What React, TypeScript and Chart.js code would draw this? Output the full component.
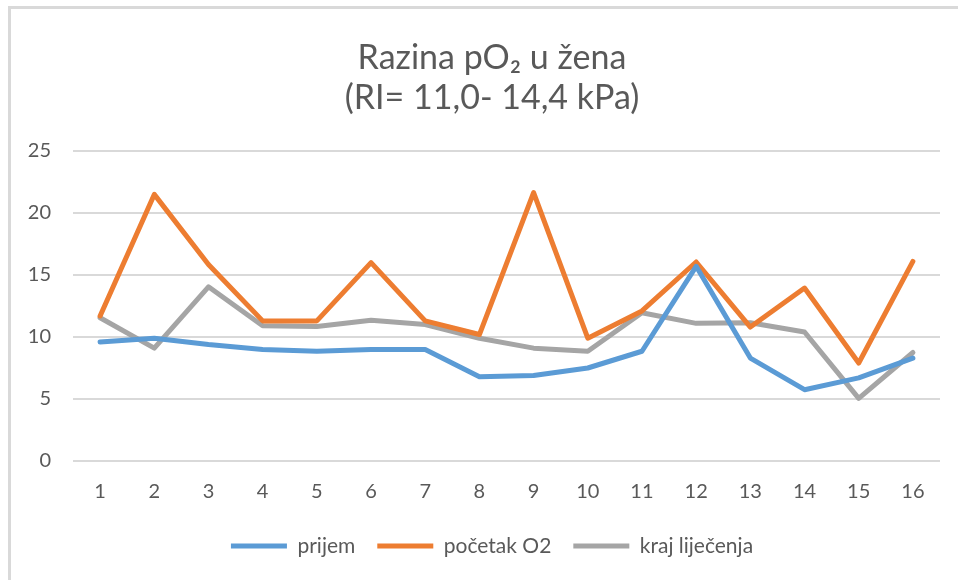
import React, { useEffect, useRef } from "react";
import { Chart, registerables } from "chart.js";

Chart.register(...registerables);

const categories = ["1", "2", "3", "4", "5", "6", "7", "8", "9", "10", "11", "12", "13", "14", "15", "16"];
const prijem = [9.6, 9.9, 9.4, 9.0, 8.85, 9.0, 9.0, 6.8, 6.9, 7.5, 8.85, 15.7, 8.3, 5.75, 6.7, 8.3];
const pocetakO2 = [11.7, 21.5, 15.85, 11.3, 11.3, 16.0, 11.3, 10.2, 21.65, 9.9, 12.1, 16.05, 10.8, 13.95, 7.9, 16.1];
const krajLijecenja = [11.55, 9.1, 14.05, 10.9, 10.85, 11.35, 11.0, 9.9, 9.1, 8.85, 11.95, 11.1, 11.15, 10.4, 5.05, 8.75];
const titleLines = ["Razina pO\u2082 u \u017eena", "(RI= 11,0- 14,4 kPa)"];
const seriesNames = ["prijem", "po\u010detak O2", "kraj lije\u010denja"];

const FONT = "Lato, 'Noto Sans', sans-serif";
const TEXT = "#595959";

export default function App() {
  const ref = useRef<HTMLCanvasElement | null>(null);

  useEffect(() => {
    if (!ref.current) return;
    const mk = (label: string, data: number[], color: string) => ({
      label,
      data,
      borderColor: color,
      backgroundColor: color,
      borderWidth: 5,
      pointRadius: 0,
      pointHoverRadius: 0,
      tension: 0,
      borderJoinStyle: "round" as const,
      borderCapStyle: "round" as const,
      fill: false,
      yAxisID: "y",
    });
    const chart = new Chart(ref.current, {
      type: "line",
      data: {
        labels: categories,
        datasets: [
          mk(seriesNames[0], prijem, "#5B9BD5"),
          mk(seriesNames[1], pocetakO2, "#ED7D31"),
          mk(seriesNames[2], krajLijecenja, "#A5A5A5"),
        ],
      },
      options: {
        responsive: false,
        animation: false,
        layout: { padding: { left: 0, right: 0, top: 0, bottom: 13.5 } },
        plugins: {
          tooltip: { enabled: false },
          title: {
            display: true,
            text: titleLines,
            color: TEXT,
            font: { family: FONT, size: 34, weight: "normal", lineHeight: "40px" },
            padding: { top: 38, bottom: 33 },
          },
          legend: {
            position: "bottom",
            labels: {
              usePointStyle: true,
              pointStyle: "line",
              pointStyleWidth: 56,
              boxHeight: 21,
              color: TEXT,
              font: { family: FONT, size: 21 },
              padding: 22,
            },
          },
        },
        scales: {
          x: {
            offset: true,
            grid: { display: false, drawTicks: false },
            border: { display: false },
            ticks: { color: TEXT, font: { family: FONT, size: 20 }, padding: 19, maxRotation: 0 },
            afterFit: (scale: any) => {
              scale.height = 52.5;
            },
          },
          y: {
            position: "left",
            min: 0,
            max: 25,
            ticks: { stepSize: 5, color: TEXT, font: { family: FONT, size: 20 }, padding: 22 },
            grid: { color: "#d9d9d9", lineWidth: 2, drawTicks: false },
            border: { display: false },
            afterFit: (scale: any) => {
              scale.width = 73;
            },
          },
          spacer: {
            type: "linear",
            position: "right",
            display: true,
            ticks: { display: false },
            grid: { display: false, drawTicks: false },
            border: { display: false },
            afterFit: (scale: any) => {
              scale.width = 44;
            },
          },
        },
      },
    });
    return () => chart.destroy();
  }, []);

  return (
    <div style={{ position: "absolute", left: 0, top: 0, width: 958, height: 580, background: "#fff", overflow: "hidden" }}>
      <div
        style={{
          position: "absolute",
          left: 8,
          top: 6,
          width: 1000,
          height: 700,
          borderTop: "3px solid #d9d9d9",
          borderLeft: "3px solid #d9d9d9",
        }}
      />
      <canvas ref={ref} width={984} height={580} style={{ position: "absolute", left: 0, top: 0 }} />
    </div>
  );
}
